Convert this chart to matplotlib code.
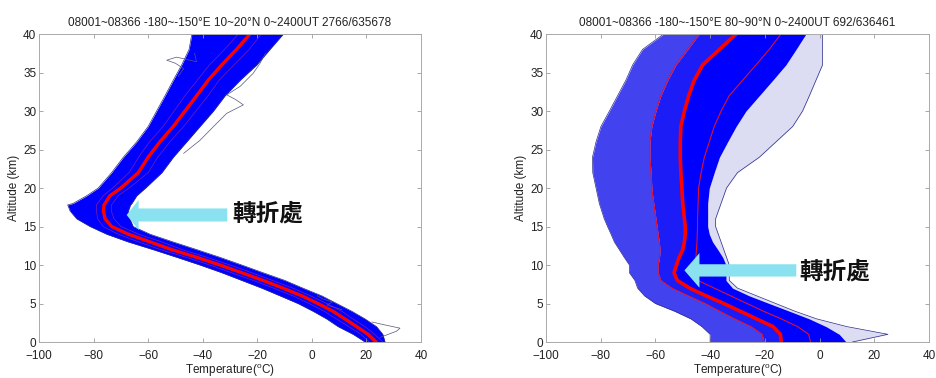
import numpy as np
import matplotlib
matplotlib.use("Agg")
import matplotlib.pyplot as plt
from matplotlib.patches import FancyArrow

plt.rcParams['font.family'] = ['Liberation Sans', 'DejaVu Sans']
plt.rcParams['mathtext.fontset'] = 'custom'
plt.rcParams['mathtext.rm'] = 'Liberation Sans'

# ---- panel 1: 10~20N ----
alt_l = [0, 1, 2, 3, 4, 5, 6, 7, 8, 9, 10, 11, 12, 13, 14, 15, 16, 17, 17.8, 18, 19, 20,
         22, 24, 26, 28, 30, 32, 34, 36, 38, 40]
mean_l = [23.5, 20.6, 16.4, 12.1, 7.7, 2.2, -3.7, -10.6, -17.9, -25.7, -33.7, -42.2, -51.4, -59.3,
          -67.3, -73.4, -75.8, -76.4, -76.2, -75.8, -74.0, -70.0, -63.6, -60.0, -55.7, -50.8,
          -46.5, -42.2, -38.0, -33.0, -27.6, -22.7]
lo_l = [21, 18, 13.5, 9, 4.5, -1, -7, -14, -21.5, -29.5, -37.5, -46, -55.5, -63.5, -71, -76.5,
        -78.5, -79, -79, -78.5, -76.5, -73, -67, -63.5, -59.5, -54.5, -50.5, -46.5, -42, -37.5,
        -32, -27]
hi_l = [26, 23, 19.5, 15, 11, 5.5, -0.5, -7, -14.5, -22, -30, -38.5, -47.5, -55, -63.5, -70,
        -72.5, -73.5, -73.5, -73, -71, -67, -60, -56.5, -52, -47, -42.5, -38, -34, -28.5, -23,
        -18.5]
min_l = [19.5, 15.1, 9.6, 5.4, 0.4, -5.1, -11.7, -18.4, -25.7, -33.0, -41.0, -49.5, -58.2, -67.3,
         -75.2, -81.3, -86.2, -88.6, -89.5, -87.5, -82.5, -78.3, -73.4, -69.1, -64.2, -60.0,
         -56.9, -53.8, -50.8, -47.7, -45.0, -44.0]
max_l = [26.8, 26.0, 23.7, 19.5, 14.6, 9.1, 3.6, -3.3, -9.9, -17.9, -25.7, -33.7, -42.2, -50.9,
         -59.3, -65.5, -66.7, -67.3, -66.5, -66.0, -64.2, -61.0, -55.0, -50.8, -45.9, -41.0,
         -36.1, -31.8, -26.3, -20.2, -15.4, -10.5]
# a few stray soundings outside the main bundle
stray1_alt = [24.5, 26.2, 28.0, 29.7, 30.8, 31.5, 32.1, 33.2, 34.9, 36.2, 37.5]
stray1_t = [-47.0, -41.0, -36.0, -31.2, -25.1, -28.0, -31.2, -26.3, -21.5, -19.0, -17.0]
stray2_alt = [34.5, 35.5, 36.2, 36.6, 37.0, 36.4, 37.5]
stray2_t = [-49.0, -47.0, -50.0, -53.2, -49.6, -42.3, -43.0]
stray3_alt = [0.6, 1.0, 1.4, 1.8, 2.2, 2.6]
stray3_t = [25.0, 28.0, 31.0, 32.3, 27.0, 22.0]
stray4_alt = [4.2, 4.8, 5.2, 5.6, 6.0]
stray4_t = [11.0, 5.5, 7.5, 4.0, 2.0]

# ---- panel 2: 80~90N ----
alt_r = [0, 1, 2, 3, 4, 5, 6, 7, 8, 9, 10, 11, 12, 13, 14, 15, 16, 17, 18, 19, 20,
         22, 24, 26, 28, 30, 32, 34, 36, 38, 40]
mean_r = [-14.0, -14.3, -17.0, -23.0, -29.0, -35.0, -41.5, -47.5, -52.0, -53.2, -52.3, -51.3,
          -50.0, -49.4, -49.1, -49.1, -49.4, -49.7, -50.0, -50.2, -50.3, -50.7, -50.9, -50.9,
          -50.7, -49.4, -47.8, -45.8, -42.7, -36.6, -30.5]
lo_r = [-20.3, -21.0, -25.0, -31.0, -36.5, -41.8, -48.0, -54.0, -58.0, -59.0, -59.0, -58.5,
        -58.3, -58.6, -59.0, -59.4, -59.8, -60.2, -60.6, -61.0, -61.3, -61.6, -62.0, -62.0,
        -61.3, -59.8, -58.0, -55.5, -52.5, -48.2, -44.0]
hi_r = [-3.3, -4.0, -8.0, -14.0, -20.5, -26.5, -32.5, -38.5, -44.5, -45.0, -45.2, -45.2, -45.0,
        -44.8, -44.7, -44.6, -44.6, -44.5, -44.4, -44.3, -44.2, -43.3, -42.1, -40.3, -38.5,
        -36.0, -33.0, -28.1, -23.2, -18.4, -14.1]
min_r = [-40, -40, -43, -47, -53, -60, -64, -66.5, -67.5, -69.5, -69.5, -71.4, -73.2, -75.0,
         -76.2, -77.5, -78.7, -79.6, -80.5, -81.1, -81.7, -82.9, -83.0, -81.7, -79.9, -76.8,
         -73.8, -70.8, -68.3, -64.7, -57.0]
max_r = [9.7, 7.2, 2.4, -3.7, -11.0, -18.4, -25.7, -31.8, -34.2, -34.2, -34.2, -35.4, -37.2,
         -39.1, -40.3, -40.9, -40.9, -40.9, -40.9, -40.6, -40.3, -38.5, -36.6, -33.6, -30.5,
         -26.9, -22.0, -17.1, -12.3, -8.6, -5.0]
sparse_r = [12, 25, 10, -1, -9, -16, -23, -30, -33, -33, -33, -34, -35, -36, -37, -38, -38, -37,
            -36, -35, -34, -30, -22, -15.9, -9.8, -6.2, -3.7, -1.3, 1.1, 1.1, 1.1]

titles = ["08001~08366 -180~-150\u00b0E 10~20\u00b0N 0~2400UT 2766/635678",
          "08001~08366 -180~-150\u00b0E 80~90\u00b0N 0~2400UT 692/636461"]
label = "轉折處"

fig = plt.figure(figsize=(9.36, 3.78), dpi=100)
ax1 = fig.add_axes([0.0417, 0.0952, 0.4081, 0.8148])
ax2 = fig.add_axes([0.5833, 0.0952, 0.4092, 0.8148])

navy = '#2a2a8a'
cyan = '#8ae2f0'

# left panel
ax1.fill_betweenx(alt_l, min_l, max_l, color='#0000ff', lw=0)
ax1.plot(min_l, alt_l, color=navy, lw=0.5)
ax1.plot(max_l, alt_l, color=navy, lw=0.5)
for sa, st in [(stray1_alt, stray1_t), (stray2_alt, stray2_t),
               (stray3_alt, stray3_t), (stray4_alt, stray4_t)]:
    ax1.plot(st, sa, color='#55557a', lw=0.5)
ax1.plot(lo_l, alt_l, color='#b02a8a', lw=0.5, alpha=0.7)
ax1.plot(hi_l, alt_l, color='#b02a8a', lw=0.5, alpha=0.7)
ax1.plot(mean_l, alt_l, color='red', lw=2.4)
ax1.add_patch(FancyArrow(-31, 16.5, -32.5, 0, width=1.7, head_width=3.9,
                         head_length=4.4, length_includes_head=False,
                         color=cyan, lw=0, zorder=5))
ax1.text(-29.3, 16.7, label, family=['Noto Sans CJK TC'], fontweight='bold',
         fontsize=17, ha='left', va='center', color='#111111')

# right panel
ax2.fill_betweenx(alt_r, max_r, sparse_r, color='#dcdcf2', lw=0)
ax2.plot(sparse_r, alt_r, color=navy, lw=0.5)
ax2.fill_betweenx(alt_r, min_r, lo_r, color='#4242ee', lw=0)
ax2.fill_betweenx(alt_r, lo_r, mean_r, color='#1c1cf6', lw=0)
ax2.fill_betweenx(alt_r, mean_r, max_r, color='#0000ff', lw=0)
ax2.plot(min_r, alt_r, color=navy, lw=0.5)
ax2.plot(lo_r, alt_r, color='#e01030', lw=0.8)
ax2.plot(hi_r, alt_r, color='#e01030', lw=0.8)
ax2.plot(mean_r, alt_r, color='red', lw=2.6)
ax2.add_patch(FancyArrow(-8.5, 9.3, -35.4, 0, width=1.6, head_width=4.5,
                         head_length=5.5, length_includes_head=False,
                         color=cyan, lw=0, zorder=5))
ax2.text(-7.2, 9.2, label, family=['Noto Sans CJK TC'], fontweight='bold',
         fontsize=17, ha='left', va='center', color='#111111')

for ax, t in zip([ax1, ax2], titles):
    ax.set_xlim(-100, 40)
    ax.set_ylim(0, 40)
    ax.set_xticks(np.arange(-100, 41, 20))
    ax.set_yticks(np.arange(0, 41, 5))
    ax.tick_params(direction='in', length=3, width=0.6, top=True, right=True,
                   labelsize=8.5, colors='#999999', labelcolor='#222222', pad=2)
    ax.tick_params(axis='x', pad=6)
    for s in ax.spines.values():
        s.set_color('#aaaaaa')
        s.set_linewidth(0.7)
    ax.set_title(t, fontsize=8.5, pad=6, color='#222222')
    ax.set_xlabel('Temperature($^{\\mathrm{o}}$C)', fontsize=8.5, labelpad=0, color='#222222')
    ax.set_ylabel('Altitude (km)', fontsize=8.5, labelpad=2, color='#222222')

fig.savefig('out.png', dpi=100)
